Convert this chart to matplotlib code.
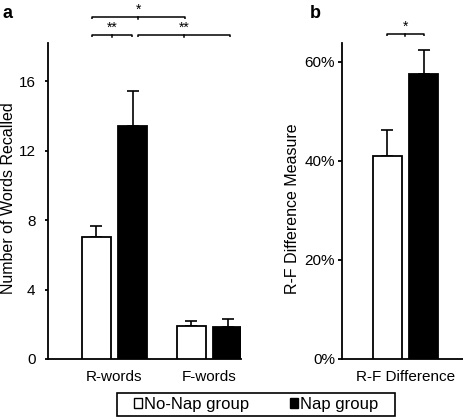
import matplotlib
matplotlib.use("Agg")
import matplotlib.pyplot as plt
from matplotlib.patches import Patch, Rectangle
from matplotlib.ticker import FuncFormatter

plt.rcParams['font.family'] = ['Liberation Sans', 'DejaVu Sans']

# ---- data ----
categories_a = ["R-words", "F-words"]
nonap_a = [7.0, 1.9]
nonap_a_err = [0.65, 0.3]
nap_a = [13.4, 1.85]
nap_a_err = [2.05, 0.45]

categories_b = ["R-F Difference"]
nonap_b = [41.0]
nonap_b_err = [5.3]
nap_b = [57.5]
nap_b_err = [4.8]

yticks_a = [0, 4, 8, 12, 16]
yticks_b = [0, 20, 40, 60]

W, H = 464, 418
fig = plt.figure(figsize=(W / 100, H / 100), dpi=100)

def px_axes(l, t, r, b):
    return fig.add_axes([l / W, 1 - b / H, (r - l) / W, (b - t) / H])

axa = px_axes(48, 43, 241, 359)
axb = px_axes(342, 43, 464, 359)

bw = 0.31
off = 0.19
lw = 1.3

def style(ax, tlen, tpad):
    for s in ["top", "right"]:
        ax.spines[s].set_visible(False)
    for s in ["left", "bottom"]:
        ax.spines[s].set_linewidth(lw)
    ax.tick_params(axis='y', direction='out', length=tlen, width=lw, labelsize=11, pad=tpad)
    ax.tick_params(axis='x', length=0, labelsize=11, pad=8)

def bars(ax, cats, v1, e1, v2, e2):
    xs = list(range(1, len(cats) + 1))
    x1 = [x - off for x in xs]
    x2 = [x + off for x in xs]
    ax.bar(x1, v1, bw, color='white', edgecolor='black', linewidth=lw, zorder=3)
    ax.bar(x2, v2, bw, color='black', edgecolor='black', linewidth=lw, zorder=3)
    ax.errorbar(x1, v1, yerr=[[0] * len(v1), e1], fmt='none', ecolor='black',
                elinewidth=1.2, capsize=4, capthick=1.2, zorder=2)
    ax.errorbar(x2, v2, yerr=[[0] * len(v2), e2], fmt='none', ecolor='black',
                elinewidth=1.2, capsize=4, capthick=1.2, zorder=2)
    ax.set_xticks(xs)
    ax.set_xticklabels(cats)

def bracket(ax, x0, x1, y, h, text):
    ax.plot([x0, x0, x1, x1], [y - h, y, y, y - h], color='black', lw=1.1,
            clip_on=False, solid_capstyle='butt')
    xm = (x0 + x1) / 2
    ax.plot([xm, xm], [y, y - h], color='black', lw=1.1, clip_on=False)
    ax.text(xm, y + h * 0.2, text, ha='center', va='bottom', fontsize=10,
            clip_on=False)

# panel a
bars(axa, categories_a, nonap_a, nonap_a_err, nap_a, nap_a_err)
axa.set_xlim(0.30, 2.332)
axa.set_ylim(0, 18.2)
axa.set_yticks(yticks_a)
axa.set_ylabel("Number of Words Recalled", fontsize=11.5)
style(axa, 2.5, 6.5)
axa.yaxis.set_label_coords(-32 / 193, 0.51)
bracket(axa, 0.763, 1.742, 19.7, 0.12, "*")
bracket(axa, 0.763, 1.184, 18.65, 0.12, "**")
bracket(axa, 1.247, 2.216, 18.65, 0.12, "**")

# panel b
bars(axb, categories_b, nonap_b, nonap_b_err, nap_b, nap_b_err)
axb.set_xlim(0.332, 1.616)
axb.set_ylim(0, 63.8)
axb.set_yticks(yticks_b)
axb.yaxis.set_major_formatter(FuncFormatter(lambda v, p: f"{v:.0f}%"))
axb.set_ylabel("R-F Difference Measure", fontsize=11.5)
style(axb, 3, 2)
axb.yaxis.set_label_coords(-42 / 122, 0.475)
bracket(axb, 0.805, 1.195, 65.6, 0.4, "*")

fig.text(3 / W, 1 - 14 / H, "a", fontsize=13, fontweight='bold', va='center', ha='left')
fig.text(310 / W, 1 - 14 / H, "b", fontsize=13, fontweight='bold', va='center', ha='left')

handles = [Patch(facecolor='white', edgecolor='black', linewidth=1.0, label='No-Nap group'),
           Patch(facecolor='black', edgecolor='black', linewidth=1.0, label='Nap group')]
leg = fig.legend(handles=handles, loc='center', bbox_to_anchor=(256 / W, 1 - 404.5 / H),
                 ncol=2, fontsize=12, frameon=False,
                 handlelength=0.5, handleheight=0.55, handletextpad=0.1,
                 columnspacing=2.45, borderpad=0, borderaxespad=0)

# frame around legend, padded horizontally like the reference
fig.canvas.draw()
bb = leg.get_window_extent()
padx, boxh = 17, 23
cy = (bb.y0 + bb.y1) / 2
fig.patches.append(Rectangle(((bb.x0 - padx) / W, (cy - boxh / 2) / H),
                             (bb.width + 2 * padx) / W, boxh / H,
                             transform=fig.transFigure, fill=False,
                             edgecolor='black', linewidth=1.2))

fig.savefig("out.png", dpi=100)
